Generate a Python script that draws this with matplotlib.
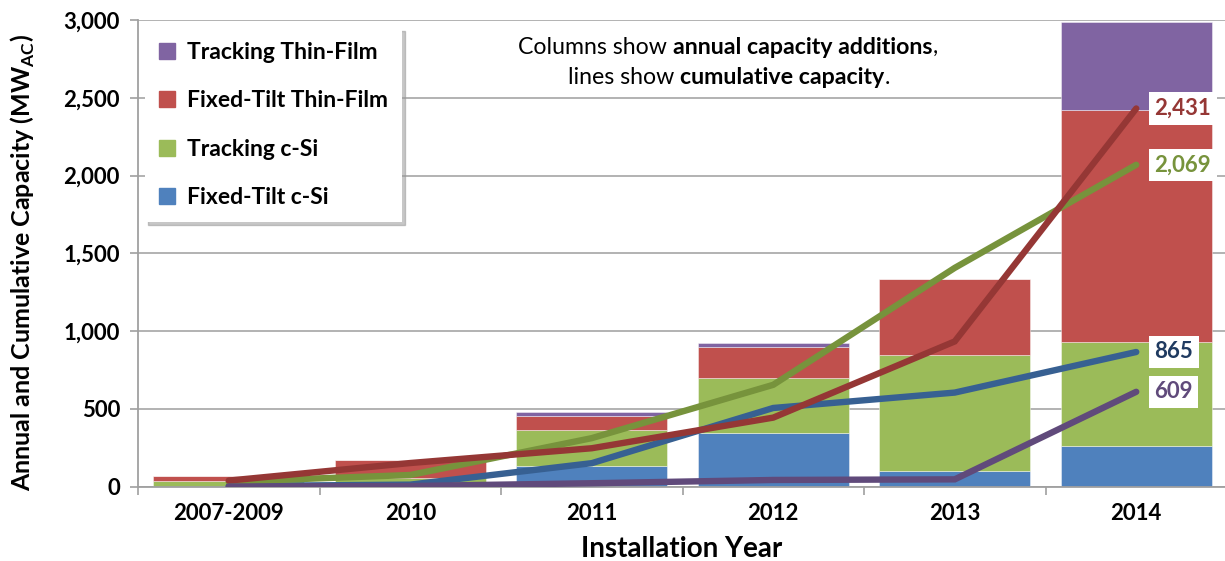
import matplotlib
matplotlib.use("Agg")
import matplotlib.pyplot as plt
import numpy as np
from matplotlib.patches import Patch

plt.rcParams['font.family'] = ['Lato', 'DejaVu Sans']
plt.rcParams['mathtext.fontset'] = 'custom'
plt.rcParams['mathtext.rm'] = 'Lato'
plt.rcParams['mathtext.bf'] = 'Lato:bold'

categories = ["2007-2009", "2010", "2011", "2012", "2013", "2014"]

# Annual capacity additions (MW_AC) - stacked columns
fixed_csi_annual = [0, 8, 134, 347, 98, 261]
track_csi_annual = [35, 45, 228, 352, 749, 666]
fixed_tf_annual = [33, 118, 94, 198, 486, 1496]
track_tf_annual = [0, 0, 22, 28, 0, 562]

# Cumulative capacity (MW_AC) - lines
fixed_csi_cum = [3, 12, 150, 505, 604, 865]
track_csi_cum = [31, 74, 311, 654, 1406, 2069]
fixed_tf_cum = [38, 151, 246, 443, 933, 2431]
track_tf_cum = [0, 3, 21, 42, 46, 609]

yticks = [0, 500, 1000, 1500, 2000, 2500, 3000]

c_blue, c_green, c_red, c_purple = "#4F81BD", "#9BBB59", "#C0504D", "#8064A2"
l_blue, l_green, l_red, l_purple = "#376092", "#77933C", "#953735", "#604A7B"

fig = plt.figure(figsize=(12.25, 5.61), dpi=100)
W, H = 1225, 561
ax = fig.add_axes([138 / W, (H - 486.5) / H, (1227 - 138) / W, (486.5 - 20) / H])

x = np.arange(len(categories))
bw = 0.83
bottom = np.zeros(len(categories))
for vals, col in [(fixed_csi_annual, c_blue), (track_csi_annual, c_green),
                  (fixed_tf_annual, c_red), (track_tf_annual, c_purple)]:
    ax.bar(x, vals, bw, bottom=bottom, color=col, edgecolor=(1, 1, 1, 0.5),
           linewidth=0.6, zorder=2)
    bottom += np.array(vals)

lw = 4.6
for vals, col in [(fixed_csi_cum, l_blue), (track_csi_cum, l_green),
                  (fixed_tf_cum, l_red), (track_tf_cum, l_purple)]:
    ax.plot(x, vals, color=col, lw=lw, solid_capstyle='round',
            solid_joinstyle='miter', zorder=3)

# end labels
label_cols = [(fixed_tf_cum, l_red), (track_csi_cum, l_green),
              (fixed_csi_cum, "#1F3A60"), (track_tf_cum, l_purple)]
for vals, col in label_cols:
    ax.text(x[-1] + 0.1, vals[-1], f"{vals[-1]:,}", color=col, fontsize=16,
            fontweight='bold', ha='left', va='center', zorder=5,
            bbox=dict(facecolor='white', edgecolor='none', pad=4))

ax.set_xlim(-0.5, 5.5)
ax.set_ylim(0, 3000)
ax.set_yticks(yticks)
ax.set_yticklabels([f"{v:,}" for v in yticks])
ax.set_xticks(x)
ax.set_xticklabels(categories)
ax.set_xticks(np.arange(-0.5, 6.0, 1.0), minor=True)
ax.tick_params(axis='x', which='major', length=0, pad=12)
ax.tick_params(axis='x', which='minor', length=6, color='#A0A0A0', width=1.2)
ax.tick_params(axis='y', length=6, color='#A0A0A0', width=1.2, pad=7)
for lab in ax.get_xticklabels() + ax.get_yticklabels():
    lab.set_fontweight('bold')
    lab.set_fontsize(16)

ax.grid(axis='y', color='#ADADAD', lw=1.3, zorder=0)
ax.set_axisbelow(True)
for s in ['top', 'right']:
    ax.spines[s].set_visible(False)
for s in ['left', 'bottom']:
    ax.spines[s].set_color('#A0A0A0')
    ax.spines[s].set_linewidth(1.3)

ax.set_xlabel("Installation Year", fontsize=20, fontweight='bold')
ax.xaxis.set_label_coords((682 - 138) / 1089, -(549 - 486.5) / 466.5)
ax.xaxis.label.set_va('center')
ax.set_ylabel(r"Annual and Cumulative Capacity (MW$_{\mathbf{AC}}$)", fontsize=18,
              fontweight='bold')
ax.yaxis.set_label_coords(-(138 - 23) / 1089, (486.5 - 262) / 466.5)
ax.yaxis.label.set_va('center')

handles = [Patch(color=c_purple), Patch(color=c_red), Patch(color=c_green), Patch(color=c_blue)]
labels = ["Tracking Thin-Film", "Fixed-Tilt Thin-Film", "Tracking c-Si", "Fixed-Tilt c-Si"]
leg = ax.legend(handles, labels, loc='upper left', bbox_to_anchor=(0.0064, 0.983),
                borderaxespad=0, prop={'weight': 'bold', 'size': 16.5},
                handlelength=0.7, handleheight=0.7, handletextpad=0.55,
                labelspacing=1.2, borderpad=0.6, frameon=True, fancybox=False,
                shadow={'color': '0.6', 'alpha': 0.55}, edgecolor='none', framealpha=1)
leg.set_zorder(6)

# Annotation with mixed bold text
fig.canvas.draw()
renderer = fig.canvas.get_renderer()

def mixed_line(pieces, cx, cy, size):
    texts = []
    for s, bold in pieces:
        t = fig.text(0, cy / H, s, fontsize=size, fontweight='bold' if bold else 'normal',
                     ha='left', va='center')
        texts.append(t)
    widths = [t.get_window_extent(renderer).width for t in texts]
    total = sum(widths)
    start = cx - total / 2
    for t, w in zip(texts, widths):
        t.set_x(start / W)
        start += w

sp = " "
mixed_line([("Columns show" + sp, False), ("annual capacity additions", True), (",", False)],
           728, H - 47, 16.7)
mixed_line([("lines show" + sp, False), ("cumulative capacity", True), (".", False)],
           729, H - 78, 16.7)

fig.savefig("out.png", dpi=100)
